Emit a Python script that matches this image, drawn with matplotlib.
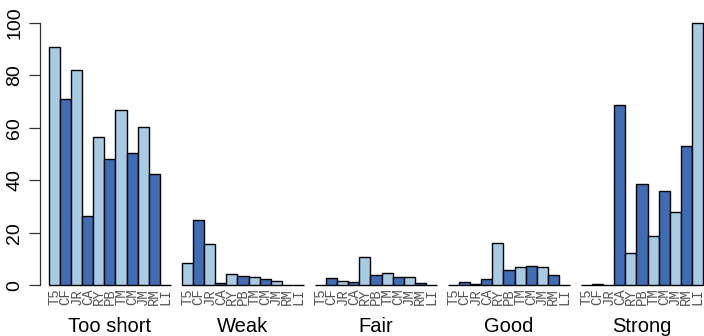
import matplotlib
matplotlib.use("Agg")
import matplotlib.pyplot as plt
import matplotlib.transforms as mtransforms
import numpy as np

groups = ["Too short", "Weak", "Fair", "Good", "Strong"]
systems = ["T5", "CF", "JR", "CA", "RY", "PB", "TM", "CM", "JM", "RM", "LI"]

too_short = [91.0, 71.0, 82.1, 26.4, 56.4, 48.0, 66.7, 50.4, 60.3, 42.3, 0.0]
weak      = [8.6, 24.8, 15.6, 0.8, 4.2, 3.4, 3.0, 2.5, 1.6, 0.2, 0.0]
fair      = [0.0, 2.6, 1.5, 1.1, 10.8, 4.0, 4.7, 3.2, 3.2, 0.8, 0.0]
good      = [0.0, 1.2, 0.4, 2.4, 16.2, 5.7, 6.9, 7.5, 6.9, 3.9, 0.0]
strong    = [0.0, 0.5, 0.0, 68.6, 12.2, 38.7, 18.7, 36.0, 27.9, 53.1, 100.0]

data = [too_short, weak, fair, good, strong]
yticks = [0, 20, 40, 60, 80, 100]

light = "#a6cbe3"
dark = "#3e6db5"
colors = [light if i % 2 == 0 else dark for i in range(len(systems))]

fig = plt.figure(figsize=(7.04, 3.36), dpi=100)
ax = fig.add_axes([40/704, 50.7/336, 664/704, 262.3/336])

n = len(systems)
tick_pos = []
tick_lab = []
trans = mtransforms.blended_transform_factory(ax.transData, fig.transFigure)
for g, vals in enumerate(data):
    lefts = np.arange(n) + 1 + g * (n + 1)
    ax.bar(lefts, vals, width=1.0, align="edge", color=colors,
           edgecolor="black", linewidth=1.0, clip_on=False)
    tick_pos.extend(lefts + 0.5)
    tick_lab.extend(systems)
    ax.text(lefts[0] + n / 2, (336 - 326) / 336, groups[g], transform=trans,
            ha="center", va="center", fontsize=14.5, family="Liberation Sans")

ax.set_xlim(0.19, 60.09)
ax.set_ylim(0, 100)
for s in ["top", "right", "bottom"]:
    ax.spines[s].set_visible(False)
ax.spines["left"].set_linewidth(0.9)
ax.spines["left"].set_color("#333333")

ax.set_yticks(yticks)
ax.set_yticklabels([str(v) for v in yticks], rotation=90, va="center",
                   fontsize=14, family="Liberation Sans")
ax.tick_params(axis="y", length=8, width=0.9, pad=4, color="#333333")

ax.set_xticks(tick_pos)
ax.set_xticklabels(tick_lab, rotation=90, fontsize=10, family="Liberation Mono",
                   color="#555555")
ax.tick_params(axis="x", length=0, pad=2)

fig.savefig("out.png", dpi=100)
